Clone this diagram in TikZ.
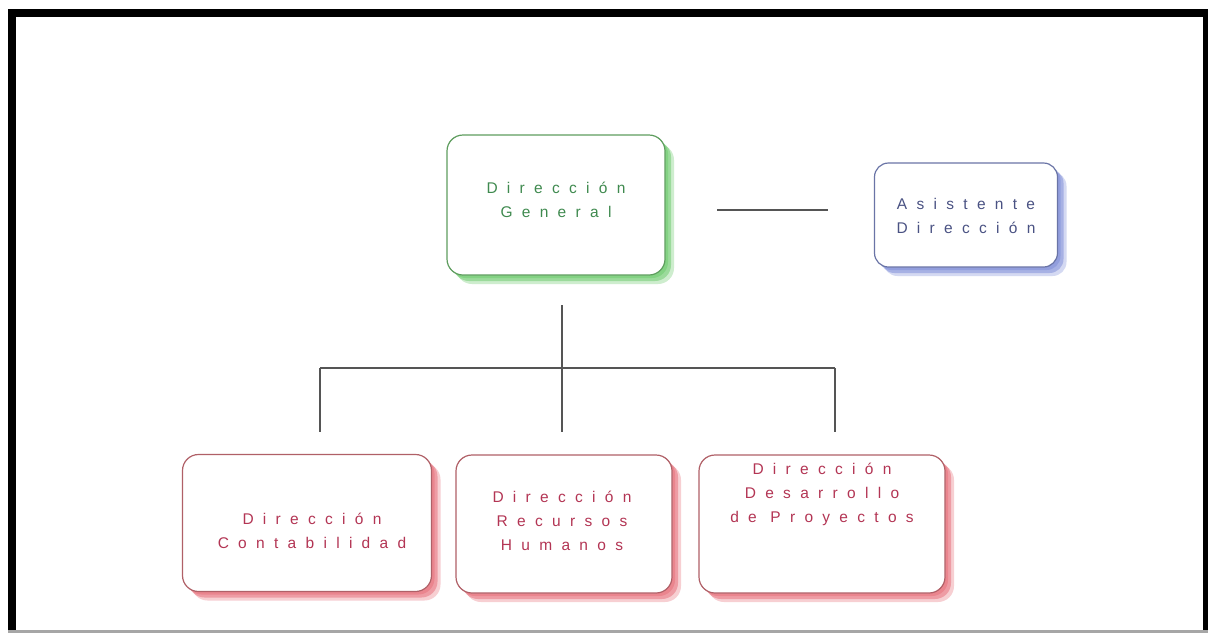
\documentclass[tikz,border=0pt]{standalone}
\usepackage{fontspec}
\setmainfont{Liberation Sans}
\newfontfamily\spaced[LetterSpace=60]{Liberation Sans}
\definecolor{gtext}{HTML}{3F8A4F}
\definecolor{gshad}{HTML}{3DBA3D}
\definecolor{btext}{HTML}{4A5283}
\definecolor{bshad}{HTML}{5468CC}
\definecolor{rtext}{HTML}{B33554}
\definecolor{rshad}{HTML}{E0404F}
\definecolor{linec}{HTML}{555555}
\tikzset{
  shad/.style={
    preaction={fill=#1, opacity=0.25, transform canvas={xshift=3pt,yshift=-3pt}},
    preaction={fill=#1, opacity=0.35, transform canvas={xshift=6pt,yshift=-6pt}},
    preaction={fill=#1, opacity=0.25, transform canvas={xshift=9pt,yshift=-9pt}}},
  orgbox/.style={draw=#1!50!gray, line width=1.2pt, fill=white, rounded corners=16pt, shad=#1, inner sep=0pt},
  txt/.style={font=\spaced\fontsize{15.5}{24}\selectfont, align=center, text=#1},
  conn/.style={draw=linec, line width=1.6pt}
}
\begin{document}
\begin{tikzpicture}[x=1pt,y=-1pt]
\useasboundingbox (0,0) rectangle (1208,633);
\fill[white] (0,0) rectangle (1208,633);
% frame
\fill[black] (8,9) rectangle (1208,17);
\fill[black] (8,9) rectangle (16,633);
\fill[black] (1203,9) rectangle (1208,633);
\fill[gray!70] (8,630) rectangle (1208,633);
% boxes
\node[orgbox=gshad, minimum width=218pt, minimum height=140pt] (gen) at (556,205) {};
\node[txt=gtext] (gent) at (556,200) {Dirección\\General};
\node[orgbox=bshad, minimum width=183pt, minimum height=104pt, rounded corners=14pt] (asi) at (966,215) {};
\node[txt=btext] (asit) at (966,216) {Asistente\\Dirección};
\node[orgbox=rshad, minimum width=249pt, minimum height=137pt] (con) at (307,523) {};
\node[txt=rtext] (cont) at (312,531) {Dirección\\Contabilidad};
\node[orgbox=rshad, minimum width=216pt, minimum height=138pt] (rec) at (564,524) {};
\node[txt=rtext] (rect) at (562,521) {Dirección\\Recursos\\Humanos};
\node[orgbox=rshad, minimum width=246pt, minimum height=138pt] (pro) at (822,524) {};
\node[txt=rtext] (prot) at (822,494) {Dirección\\Desarrollo\\de Proyectos};
% connectors
\coordinate (hl) at (717,210);
\coordinate (hr) at (828,210);
\draw[conn] (hl) -- (hr);
\coordinate (vt) at (562,305);
\coordinate (bl) at (320,368);
\coordinate (br) at (835,368);
\coordinate (bm) at (562,368);
\draw[conn] (vt) -- (562,432);
\draw[conn] (bl) -- (br);
\draw[conn] (bl) -- (320,432);
\draw[conn] (br) -- (835,432);
\end{tikzpicture}
\end{document}
